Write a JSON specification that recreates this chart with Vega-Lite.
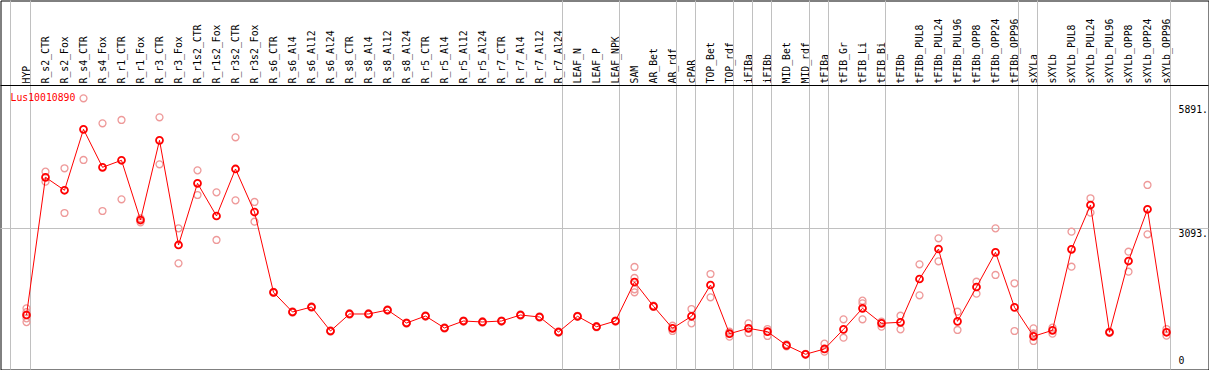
{
  "$schema": "https://vega.github.io/schema/vega-lite/v6.json",
  "width": 1208,
  "height": 369,
  "autosize": {"type": "none"},
  "padding": {"left": 0.5, "top": 0.5, "right": 0.5, "bottom": 0.5},
  "background": "white",
  "config": {"view": {"stroke": "black", "strokeWidth": 1}, "font": "DejaVu Sans Mono"},
  "title": {"text": "Lus10010890", "anchor": "start", "frame": "group", "orient": "top", "offset": 0, "dx": 10, "dy": 111, "baseline": "alphabetic", "color": "#ff0000", "font": "DejaVu Sans Mono", "fontSize": 9.8, "fontWeight": "normal"},
  "datasets": {
    "means": [
      {"sample": "HYP", "value": 1135}, {"sample": "R_s2_CTR", "value": 4252}, {"sample": "R_s2_Fox", "value": 3958}, {"sample": "R_s4_CTR", "value": 5338}, {"sample": "R_s4_Fox", "value": 4478}, {"sample": "R_r1_CTR", "value": 4637}, {"sample": "R_r1_Fox", "value": 3285}, {"sample": "R_r3_CTR", "value": 5089}, {"sample": "R_r3_Fox", "value": 2720}, {"sample": "R_r1s2_CTR", "value": 4116}, {"sample": "R_r1s2_Fox", "value": 3376}, {"sample": "R_r3s2_CTR", "value": 4440}, {"sample": "R_r3s2_Fox", "value": 3466}, {"sample": "R_s6_CTR", "value": 1649}, {"sample": "R_s6_Al4", "value": 1203}, {"sample": "R_s6_Al12", "value": 1316}, {"sample": "R_s6_Al24", "value": 773}, {"sample": "R_s8_CTR", "value": 1158}, {"sample": "R_s8_Al4", "value": 1158}, {"sample": "R_s8_Al12", "value": 1248}, {"sample": "R_s8_Al24", "value": 954}, {"sample": "R_r5_CTR", "value": 1112}, {"sample": "R_r5_Al4", "value": 841}, {"sample": "R_r5_Al12", "value": 999}, {"sample": "R_r5_Al24", "value": 977}, {"sample": "R_r7_CTR", "value": 999}, {"sample": "R_r7_Al4", "value": 1135}, {"sample": "R_r7_Al12", "value": 1090}, {"sample": "R_r7_Al24", "value": 750}, {"sample": "LEAF_N", "value": 1106}, {"sample": "LEAF_P", "value": 870}, {"sample": "LEAF_NPK", "value": 999}, {"sample": "SAM", "value": 1882}, {"sample": "AR_Bet", "value": 1332}, {"sample": "AR_rdf", "value": 834}, {"sample": "cPAR", "value": 1106}, {"sample": "TOP_Bet", "value": 1814}, {"sample": "TOP_rdf", "value": 712}, {"sample": "iFIBa", "value": 834}, {"sample": "iFIBb", "value": 757}, {"sample": "MID_Bet", "value": 449}, {"sample": "MID_rdf", "value": 246}, {"sample": "tFIBa", "value": 366}, {"sample": "tFIB_Gr", "value": 811}, {"sample": "tFIB_Li", "value": 1287}, {"sample": "tFIB_Bi", "value": 947}, {"sample": "tFIBb", "value": 970}, {"sample": "tFIBb_PUL8", "value": 1950}, {"sample": "tFIBb_PUL24", "value": 2629}, {"sample": "tFIBb_PUL96", "value": 992}, {"sample": "tFIBb_OPP8", "value": 1769}, {"sample": "tFIBb_OPP24", "value": 2554}, {"sample": "tFIBb_OPP96", "value": 1309}, {"sample": "sXYLa", "value": 653}, {"sample": "sXYLb", "value": 789}, {"sample": "sXYLb_PUL8", "value": 2622}, {"sample": "sXYLb_PUL24", "value": 3625}, {"sample": "sXYLb_PUL96", "value": 744}, {"sample": "sXYLb_OPP8", "value": 2357}, {"sample": "sXYLb_OPP24", "value": 3528}, {"sample": "sXYLb_OPP96", "value": 744}
    ],
    "reps": [
      {"sample": "HYP", "value": 1287}, {"sample": "HYP", "value": 1200}, {"sample": "HYP", "value": 1060}, {"sample": "HYP", "value": 975},
      {"sample": "R_s2_CTR", "value": 4379}, {"sample": "R_s2_CTR", "value": 4152},
      {"sample": "R_s2_Fox", "value": 4456}, {"sample": "R_s2_Fox", "value": 3444},
      {"sample": "R_s4_CTR", "value": 6040}, {"sample": "R_s4_CTR", "value": 4644},
      {"sample": "R_s4_Fox", "value": 5474}, {"sample": "R_s4_Fox", "value": 3489},
      {"sample": "R_r1_CTR", "value": 5549}, {"sample": "R_r1_CTR", "value": 3754},
      {"sample": "R_r1_Fox", "value": 3324}, {"sample": "R_r1_Fox", "value": 3233},
      {"sample": "R_r3_CTR", "value": 5610}, {"sample": "R_r3_CTR", "value": 4546},
      {"sample": "R_r3_Fox", "value": 3097}, {"sample": "R_r3_Fox", "value": 2305},
      {"sample": "R_r1s2_CTR", "value": 4410}, {"sample": "R_r1s2_CTR", "value": 3851},
      {"sample": "R_r1s2_Fox", "value": 3912}, {"sample": "R_r1s2_Fox", "value": 2833},
      {"sample": "R_r3s2_CTR", "value": 5157}, {"sample": "R_r3s2_CTR", "value": 3731},
      {"sample": "R_r3s2_Fox", "value": 3693}, {"sample": "R_r3s2_Fox", "value": 3247},
      {"sample": "R_s6_CTR", "value": 1660}, {"sample": "R_s6_CTR", "value": 1640},
      {"sample": "R_s6_Al4", "value": 1215}, {"sample": "R_s6_Al4", "value": 1190},
      {"sample": "R_s6_Al12", "value": 1330}, {"sample": "R_s6_Al12", "value": 1300},
      {"sample": "R_s6_Al24", "value": 785}, {"sample": "R_s6_Al24", "value": 760},
      {"sample": "R_s8_CTR", "value": 1170}, {"sample": "R_s8_CTR", "value": 1145},
      {"sample": "R_s8_Al4", "value": 1170}, {"sample": "R_s8_Al4", "value": 1145},
      {"sample": "R_s8_Al12", "value": 1260}, {"sample": "R_s8_Al12", "value": 1235},
      {"sample": "R_s8_Al24", "value": 965}, {"sample": "R_s8_Al24", "value": 940},
      {"sample": "R_r5_CTR", "value": 1125}, {"sample": "R_r5_CTR", "value": 1100},
      {"sample": "R_r5_Al4", "value": 855}, {"sample": "R_r5_Al4", "value": 830},
      {"sample": "R_r5_Al12", "value": 1010}, {"sample": "R_r5_Al12", "value": 985},
      {"sample": "R_r5_Al24", "value": 990}, {"sample": "R_r5_Al24", "value": 965},
      {"sample": "R_r7_CTR", "value": 1010}, {"sample": "R_r7_CTR", "value": 985},
      {"sample": "R_r7_Al4", "value": 1148}, {"sample": "R_r7_Al4", "value": 1122},
      {"sample": "R_r7_Al12", "value": 1102}, {"sample": "R_r7_Al12", "value": 1078},
      {"sample": "R_r7_Al24", "value": 762}, {"sample": "R_r7_Al24", "value": 738},
      {"sample": "LEAF_N", "value": 1118}, {"sample": "LEAF_N", "value": 1094},
      {"sample": "LEAF_P", "value": 882}, {"sample": "LEAF_P", "value": 858},
      {"sample": "LEAF_NPK", "value": 1010}, {"sample": "LEAF_NPK", "value": 988},
      {"sample": "SAM", "value": 2222}, {"sample": "SAM", "value": 1973}, {"sample": "SAM", "value": 1717}, {"sample": "SAM", "value": 1649},
      {"sample": "AR_Bet", "value": 1345}, {"sample": "AR_Bet", "value": 1320},
      {"sample": "AR_rdf", "value": 893}, {"sample": "AR_rdf", "value": 773},
      {"sample": "cPAR", "value": 1271}, {"sample": "cPAR", "value": 947},
      {"sample": "TOP_Bet", "value": 2063}, {"sample": "TOP_Bet", "value": 1536},
      {"sample": "TOP_rdf", "value": 757}, {"sample": "TOP_rdf", "value": 644},
      {"sample": "iFIBa", "value": 947}, {"sample": "iFIBa", "value": 728},
      {"sample": "iFIBb", "value": 818}, {"sample": "iFIBb", "value": 660},
      {"sample": "MID_Bet", "value": 472}, {"sample": "MID_Bet", "value": 427},
      {"sample": "MID_rdf", "value": 255}, {"sample": "MID_rdf", "value": 240},
      {"sample": "tFIBa", "value": 486}, {"sample": "tFIBa", "value": 305},
      {"sample": "tFIB_Gr", "value": 1038}, {"sample": "tFIB_Gr", "value": 621},
      {"sample": "tFIB_Li", "value": 1459}, {"sample": "tFIB_Li", "value": 1400}, {"sample": "tFIB_Li", "value": 1038},
      {"sample": "tFIB_Bi", "value": 983}, {"sample": "tFIB_Bi", "value": 870},
      {"sample": "tFIBb", "value": 1119}, {"sample": "tFIBb", "value": 811},
      {"sample": "tFIBb_PUL8", "value": 2283}, {"sample": "tFIBb_PUL8", "value": 1581},
      {"sample": "tFIBb_PUL24", "value": 2871}, {"sample": "tFIBb_PUL24", "value": 2351},
      {"sample": "tFIBb_PUL96", "value": 1210}, {"sample": "tFIBb_PUL96", "value": 796},
      {"sample": "tFIBb_OPP8", "value": 1889}, {"sample": "tFIBb_OPP8", "value": 1617},
      {"sample": "tFIBb_OPP24", "value": 3097}, {"sample": "tFIBb_OPP24", "value": 2041},
      {"sample": "tFIBb_OPP96", "value": 1853}, {"sample": "tFIBb_OPP96", "value": 773},
      {"sample": "sXYLa", "value": 834}, {"sample": "sXYLa", "value": 717}, {"sample": "sXYLa", "value": 547},
      {"sample": "sXYLb", "value": 848}, {"sample": "sXYLb", "value": 712},
      {"sample": "sXYLb_PUL8", "value": 3021}, {"sample": "sXYLb_PUL8", "value": 2228},
      {"sample": "sXYLb_PUL24", "value": 3777}, {"sample": "sXYLb_PUL24", "value": 3451},
      {"sample": "sXYLb_PUL96", "value": 760}, {"sample": "sXYLb_PUL96", "value": 730},
      {"sample": "sXYLb_OPP8", "value": 2568}, {"sample": "sXYLb_OPP8", "value": 2115},
      {"sample": "sXYLb_OPP24", "value": 4078}, {"sample": "sXYLb_OPP24", "value": 2962},
      {"sample": "sXYLb_OPP96", "value": 818}, {"sample": "sXYLb_OPP96", "value": 667}
    ],
    "separators": [
      {"sample": "HYP"}, {"sample": "R_r7_Al24"}, {"sample": "LEAF_NPK"}, {"sample": "AR_rdf"}, {"sample": "cPAR"}, {"sample": "TOP_rdf"}, {"sample": "iFIBa"}, {"sample": "iFIBb"}, {"sample": "MID_rdf"}, {"sample": "tFIBa"}, {"sample": "tFIB_Bi"}, {"sample": "tFIBb_OPP96"}, {"sample": "sXYLa"}, {"sample": "sXYLb_OPP96"}
    ],
    "first": [{"sample": "HYP"}],
    "grid": [{"value": 3093}],
    "header": [{"line": "header"}]
  },
  "layer": [
    {
      "data": {"name": "separators"},
      "mark": {"type": "rule", "color": "#c0c0c0", "strokeWidth": 1, "xOffset": 4},
      "encoding": {
        "x": {"field": "sample", "type": "nominal", "scale": {"type": "point", "padding": 0, "domain": ["HYP","R_s2_CTR","R_s2_Fox","R_s4_CTR","R_s4_Fox","R_r1_CTR","R_r1_Fox","R_r3_CTR","R_r3_Fox","R_r1s2_CTR","R_r1s2_Fox","R_r3s2_CTR","R_r3s2_Fox","R_s6_CTR","R_s6_Al4","R_s6_Al12","R_s6_Al24","R_s8_CTR","R_s8_Al4","R_s8_Al12","R_s8_Al24","R_r5_CTR","R_r5_Al4","R_r5_Al12","R_r5_Al24","R_r7_CTR","R_r7_Al4","R_r7_Al12","R_r7_Al24","LEAF_N","LEAF_P","LEAF_NPK","SAM","AR_Bet","AR_rdf","cPAR","TOP_Bet","TOP_rdf","iFIBa","iFIBb","MID_Bet","MID_rdf","tFIBa","tFIB_Gr","tFIB_Li","tFIB_Bi","tFIBb","tFIBb_PUL8","tFIBb_PUL24","tFIBb_PUL96","tFIBb_OPP8","tFIBb_OPP24","tFIBb_OPP96","sXYLa","sXYLb","sXYLb_PUL8","sXYLb_PUL24","sXYLb_PUL96","sXYLb_OPP8","sXYLb_OPP24","sXYLb_OPP96"], "range": [26, 1166]},
          "axis": {"orient": "top", "offset": -84.5, "domain": false, "ticks": false, "tickSize": 0, "labelPadding": 2, "labelAngle": -90, "labelAlign": "left", "labelBaseline": "middle", "labelFont": "DejaVu Sans Mono", "labelFontSize": 9.8, "labelColor": "black", "labelOverlap": false, "labelBound": false, "labelFlush": false, "grid": false, "title": null}}
      }
    },
    {
      "data": {"name": "first"},
      "mark": {"type": "rule", "color": "#c0c0c0", "strokeWidth": 1, "xOffset": -16},
      "encoding": {
        "x": {"field": "sample", "type": "nominal"}
      }
    },
    {
      "data": {"name": "grid"},
      "mark": {"type": "rule", "color": "#c0c0c0", "strokeWidth": 1},
      "encoding": {
        "y": {"field": "value", "type": "quantitative", "scale": {"domain": [0, 5891], "range": [364.65, 104.38], "nice": false, "zero": false},
          "axis": {"orient": "right", "offset": -30.5, "values": [0, 3093, 5891], "format": "d", "labelExpr": "datum.value == 0 ? '0' : datum.label + '.'", "domain": false, "ticks": false, "tickSize": 0, "labelPadding": 0, "grid": false, "title": null, "labelAlign": "left", "labelBaseline": {"condition": {"test": "datum.value == 0", "value": "bottom"}, "value": "top"}, "labelFont": "DejaVu Sans Mono", "labelFontSize": 9.8, "labelColor": "black", "labelOverlap": false, "labelFlush": false, "labelBound": false}}
      }
    },
    {
      "data": {"name": "header"},
      "mark": {"type": "rule", "color": "black", "strokeWidth": 1},
      "encoding": {"y": {"value": 85}}
    },
    {
      "data": {"name": "reps"},
      "mark": {"type": "point", "shape": "circle", "filled": false, "stroke": "#ee9999", "strokeWidth": 1.3, "size": 48, "opacity": 1},
      "encoding": {
        "x": {"field": "sample", "type": "nominal"},
        "y": {"field": "value", "type": "quantitative"}
      }
    },
    {
      "data": {"name": "means"},
      "mark": {"type": "line", "color": "#ff0000", "strokeWidth": 1},
      "encoding": {
        "x": {"field": "sample", "type": "nominal"},
        "y": {"field": "value", "type": "quantitative"},
        "order": {"value": null}
      }
    },
    {
      "data": {"name": "means"},
      "mark": {"type": "point", "shape": "circle", "filled": false, "stroke": "#ff0000", "strokeWidth": 1.8, "size": 48, "opacity": 1},
      "encoding": {
        "x": {"field": "sample", "type": "nominal"},
        "y": {"field": "value", "type": "quantitative"}
      }
    }
  ]
}
